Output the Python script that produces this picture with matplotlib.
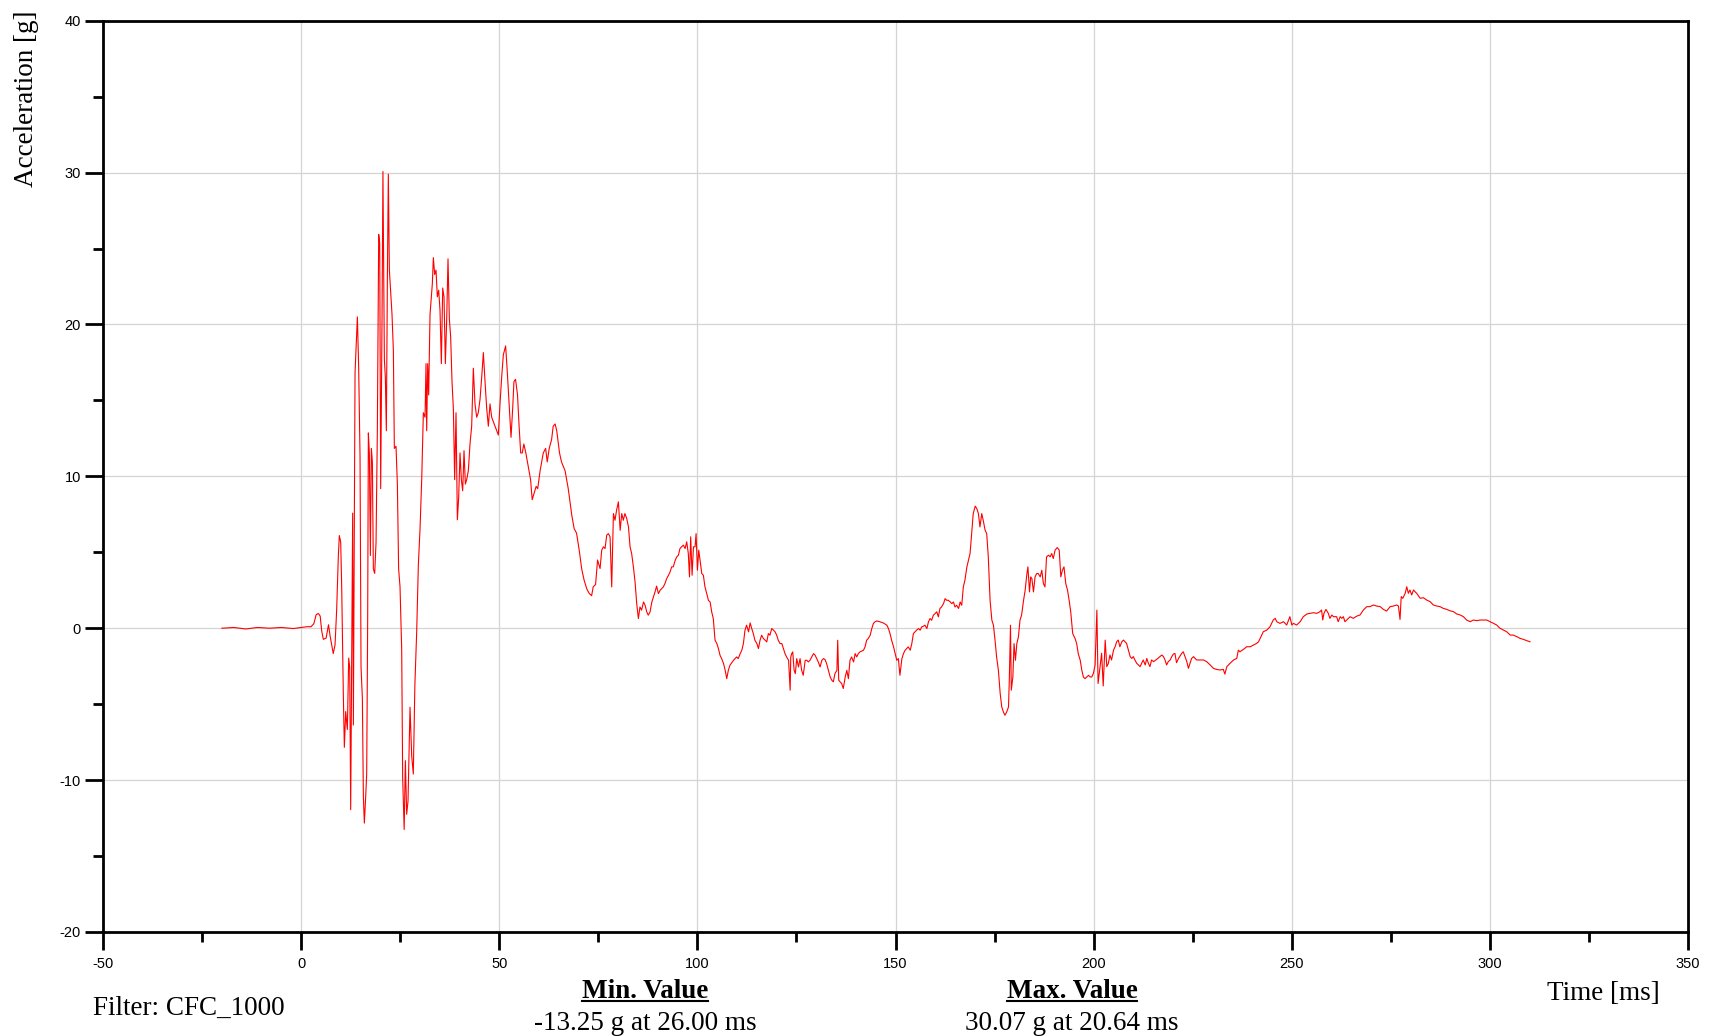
import numpy as np
import matplotlib
matplotlib.use('Agg')
import matplotlib.pyplot as plt
from matplotlib.ticker import MultipleLocator
from matplotlib.lines import Line2D

plt.rcParams['axes.unicode_minus'] = False

# pre-impact, nearly flat
t_pre = [-20, -17, -14, -11, -8, -5, -2, 0, 1.5, 2.5, 3.2, 3.8, 4.35, 4.8, 5.2, 5.6, 6.3, 6.9, 7.3, 7.7, 8.1, 8.55]
g_pre = [0.0, 0.05, -0.05, 0.05, 0.0, 0.05, -0.02, 0.05, 0.1, 0.1, 0.3, 0.9, 0.97, 0.8, -0.2, -0.73, -0.65, 0.23, -0.5, -1.1, -1.67, -1.1]

# impact phase
t_imp = [8.97, 9.39, 9.64, 9.98, 10.23, 10.65, 10.9, 11.24, 11.66, 12.0, 12.25, 12.5, 12.84, 13.0, 13.18,
         13.6, 14.19, 14.52, 14.86, 15.11, 15.45, 15.7, 15.95, 16.29, 16.54, 16.79, 16.96, 17.21, 17.47,
         17.72, 17.97, 18.22, 18.56, 18.9, 19.23, 19.57, 19.82, 20.07, 20.41, 20.64, 21.0, 21.25, 21.5,
         21.76, 22.0, 22.26, 22.6, 22.93, 23.27, 23.52, 23.94, 24.28, 24.6, 24.95, 25.37, 25.62, 26.0,
         26.3, 26.63, 26.97, 27.47, 27.9, 28.3, 28.7, 29.16, 29.58, 30.0, 30.42, 30.84, 31.26, 31.51,
         31.68, 31.93, 32.18, 32.52, 32.77, 33.11, 33.36, 33.7, 34.03, 34.37, 34.71, 35.04, 35.38, 35.72,
         36.05, 36.39, 36.73, 37.06, 37.4, 37.73, 38.07, 38.41, 38.74, 39.08, 39.42, 39.75, 40.09, 40.43,
         40.76, 41.1, 41.44, 41.77]
g_imp = [1.26, 4.8, 6.1, 5.67, 2.73, -4.46, -7.84, -5.49, -6.67, -1.97, -2.56, -11.95, 0.97, 7.58, -6.37,
         16.83, 20.5, 17.12, 11.25, -2.56, -4.61, -11.07, -12.83, -11.07, -9.6, 0.68, 12.86, 11.54, 4.79,
         11.84, 10.95, 3.9, 3.61, 5.67, 13.0, 25.93, 25.34, 9.19, 20.35, 30.07, 17.7, 16.5, 13.0,
         23.0, 29.9, 23.58, 22.1, 20.65, 18.3, 11.84, 11.98, 9.49, 3.9, 2.73, -1.38, -9.9, -13.25,
         -8.72, -12.25, -11.37, -5.2, -8.43, -9.6, -3.73, -0.2, 4.2, 6.55, 9.78, 14.19, 13.89, 17.42,
         13.0, 17.42, 15.36, 20.65, 21.53, 22.7, 24.4, 23.29, 23.58, 21.82, 22.26, 20.94, 17.42, 22.4,
         21.82, 17.42, 20.35, 24.32, 20.35, 19.18, 16.24, 14.48, 9.78, 14.19, 7.14, 8.6, 11.54, 9.78,
         9.05, 11.69, 9.49, 9.78]

# rebound / decay
t_mid = [42.19, 42.61, 43.03, 43.45, 43.87, 44.3, 44.7, 45.14, 45.56, 45.98, 46.4, 46.82, 47.24, 47.66,
         48.08, 48.5, 48.92, 49.34, 49.76, 50.18, 50.6, 51.02, 51.6, 52.03, 52.54, 52.96, 53.38, 53.7,
         54.1, 54.6, 55.0, 55.4, 55.8, 56.2, 56.7, 57.3, 57.9, 58.3, 58.8, 59.3, 59.7, 60.3, 61.1, 61.7,
         62.1, 62.6, 63.2, 63.6, 64.1, 64.5, 65.2, 65.7, 66.6, 67.4, 68.3, 68.9, 69.5, 70.2, 70.8, 71.4,
         72.1, 72.7, 73.3, 73.7, 74.3, 74.8]
g_mid = [10.37, 12.13, 13.3, 17.12, 14.77, 13.89, 14.19, 15.07, 16.53, 18.15, 16.24, 14.48, 13.3, 14.77,
         13.89, 13.6, 13.3, 13.0, 12.72, 14.77, 16.53, 18.0, 18.59, 16.83, 14.48, 12.57, 14.48, 16.24,
         16.39, 15.36, 13.3, 11.54, 11.54, 12.13, 11.54, 10.66, 9.78, 8.46, 8.9, 9.34, 9.19, 10.37, 11.54, 11.84,
         10.95, 11.84, 12.42, 13.3, 13.45, 13.0, 11.54, 10.95, 10.37, 9.19, 7.43, 6.55, 6.26, 5.08, 3.9, 3.17,
         2.58, 2.29, 2.14, 2.73, 2.88, 4.49]

t_a = [75.43, 75.85, 76.27, 76.69, 77.11, 77.53, 77.95, 78.37, 78.8, 79.2, 79.6, 80.06, 80.5, 80.9, 81.3,
       81.7, 82.16, 82.6, 83.0, 83.4, 83.84, 84.26, 84.68, 85.1, 85.5, 85.9, 86.4, 86.8, 87.2, 87.6, 88.05,
       88.5, 88.9, 89.3, 89.7, 90.15, 90.6, 91.0, 91.4, 91.8, 92.25, 92.7, 93.1, 93.5, 93.9, 94.4, 94.8,
       95.2, 95.6, 96.0, 96.46, 96.9, 97.3, 97.7, 98.0, 98.3, 98.65, 99.0, 99.4, 99.66, 100.0, 100.33,
       100.67, 101.1, 101.5, 101.9, 102.35, 102.77, 103.2, 103.6, 104.0, 104.45, 104.9, 105.3, 105.7,
       106.1, 106.6, 107.0, 107.4, 107.8, 108.2, 109.1, 109.9, 110.3, 110.8, 111.2, 111.6, 112.0, 112.4,
       112.9, 113.3, 113.7, 114.1, 114.5, 115.0, 115.4, 115.8, 116.2, 116.65, 117.1, 117.5, 117.9, 118.3,
       118.75, 119.2, 119.6, 120.0, 120.4, 120.85, 121.3, 121.7, 122.1, 122.5, 123.0, 123.4, 123.55,
       123.8, 124.05, 124.4, 124.7, 125.06, 125.5, 125.9, 126.3, 126.7, 127.2, 127.6, 128.0, 128.4,
       128.85, 129.3, 129.7, 130.1, 130.5, 130.95, 131.4, 131.8, 132.2, 132.6, 133.05, 133.5, 133.9,
       134.3, 134.7, 135.2, 135.4, 135.66, 136.0, 136.4, 136.8, 137.3, 137.7, 138.1, 138.5, 138.9, 139.4,
       139.8]
g_a = [3.93, 5.14, 5.36, 5.25, 6.13, 6.23, 6.02, 2.72, 7.55, 7.11, 7.77, 8.32, 6.45, 7.55, 7.11,
       7.55, 7.22, 6.67, 5.36, 4.92, 4.04, 3.05, 1.62, 0.64, 1.4, 1.19, 1.73, 1.51, 1.08, 0.86, 1.08,
       1.73, 2.06, 2.39, 2.77, 2.28, 2.5, 2.61, 2.72, 2.94, 3.27, 3.49, 3.71, 4.04, 4.04, 4.48, 4.7,
       4.81, 5.25, 5.36, 5.47, 5.25, 5.69, 4.92, 3.38, 6.02, 3.49, 5.36, 5.36, 6.23, 3.82, 5.14,
       4.48, 3.6, 3.49, 2.72, 2.28, 1.84, 1.73, 1.08, 0.64, -0.79, -1.01, -1.34, -1.78,
       -2.0, -2.33, -2.77, -3.32, -2.77, -2.44, -2.11, -1.89, -2.0, -1.67, -1.45, -1.01, -0.13, 0.2,
       -0.24, 0.35, -0.02, -0.35, -0.79, -1.01, -1.34, -0.79, -0.46, -0.68, -0.79, -0.9, -0.35, -0.46,
       -0.02, -0.13, -0.24, -0.46, -0.79, -1.01, -1.01, -1.34, -1.67, -1.89, -2.11, -4.08, -1.89,
       -1.67, -1.56, -2.77, -2.99, -2.0, -2.55, -2.0, -2.77, -3.1, -2.11, -2.11, -2.22, -2.11,
       -1.89, -1.67, -1.78, -2.0, -2.22, -2.55, -2.11, -2.0, -2.06, -2.33, -2.77, -3.21, -3.42,
       -3.53, -2.99, -2.77, -0.79, -3.42, -3.53, -3.64, -3.97, -3.21, -2.77, -3.32, -2.11, -1.89, -2.22,
       -1.67]

t_b = [140.2, 140.6, 141.0, 141.9, 142.3, 142.7, 143.1, 143.6, 144.0, 144.4, 144.8, 145.25, 146.1, 146.9,
       147.8, 148.2, 148.6, 149.0, 149.5, 149.9, 150.3, 150.7, 151.1, 151.6, 152.0, 152.4, 152.8, 153.2,
       153.7, 154.1, 154.5, 154.9, 155.3, 155.8, 156.2, 156.6, 157.0, 157.4, 157.9, 158.3, 158.7, 159.1,
       159.55, 160.0, 160.4, 160.8, 161.2, 161.6, 162.1, 162.5, 162.9, 163.3, 163.8, 164.2, 164.6, 165.0,
       165.4, 165.9, 166.3, 166.7, 167.1, 167.5, 168.0, 168.4, 168.8, 169.2, 169.6, 170.1, 170.5, 170.9,
       171.3, 171.75, 172.2, 172.6, 173.0, 173.4, 173.85, 174.3, 174.7, 175.1, 175.5, 175.95, 176.4,
       176.8, 177.2, 177.6, 178.05, 178.5, 178.7, 179.0, 179.2, 179.6, 179.9, 180.25, 180.6, 181.0,
       181.4, 181.8, 182.3, 182.7, 183.1, 183.4, 183.8, 184.1, 184.4, 184.8, 185.2, 185.6, 186.0, 186.5,
       186.9, 187.3, 187.7, 188.1, 188.6, 189.0, 189.4, 189.8, 190.25, 190.8, 191.3, 191.7, 192.1, 192.5,
       192.95, 193.4, 193.8, 194.2, 194.7, 195.3, 195.7, 196.1, 196.6, 197.0, 197.4, 197.8, 198.25, 198.7,
       199.1, 199.5, 199.9, 200.35, 200.8, 201.1]
g_b = [-1.89, -1.67, -1.56, -1.45, -1.23, -0.79, -0.68, -0.46, -0.02, 0.31, 0.42, 0.48, 0.42, 0.35,
       0.2, -0.02, -0.35, -0.79, -1.23, -1.67, -2.11, -2.0, -3.1, -2.0, -1.67, -1.45, -1.34, -1.23,
       -1.45, -1.01, -0.35, -0.24, -0.13, -0.02, -0.13, 0.09, 0.13, 0.2, -0.02, 0.42, 0.64, 0.53,
       0.86, 0.97, 1.08, 0.75, 1.3, 1.4, 1.62, 1.95, 1.84, 1.84, 1.73, 1.62, 1.73, 1.4,
       1.51, 1.3, 1.73, 1.51, 2.72, 3.16, 4.04, 4.48, 4.92, 6.23, 7.55, 8.04, 7.88, 7.55,
       6.67, 7.55, 7.0, 6.45, 6.23, 4.7, 1.84, 0.53, 0.2, -0.79, -1.89, -2.77, -4.3,
       -5.18, -5.51, -5.73, -5.51, -5.18, -3.42, 0.2, -4.08, -3.21, -1.01, -2.11, -1.01, -0.57,
       0.53, 0.86, 1.84, 2.5, 3.49, 4.04, 2.39, 3.38, 3.27, 2.39, 3.38, 3.6, 3.6, 3.38,
       3.82, 2.94, 2.72, 4.7, 4.81, 4.7, 4.92, 4.59, 5.14, 5.31, 5.14, 3.38, 3.82, 4.04,
       2.94, 2.5, 1.84, 1.08, -0.35, -0.68, -1.01, -1.67, -2.11, -2.77, -3.21, -3.32, -3.21, -3.1,
       -3.21, -3.21, -2.99, -2.44, 1.19, -3.64]

t_c = [201.6, 202.0, 202.4, 202.9, 203.3, 203.7, 204.1, 204.5, 205.0, 205.4, 205.8, 206.2, 206.6, 207.1,
       207.5, 207.9, 208.3, 208.75, 209.2, 209.6, 210.0, 210.4, 210.85, 211.3, 211.7, 212.1, 212.5, 213.0,
       213.4, 213.8, 214.2, 214.6, 215.1, 215.9, 216.7, 217.2, 217.6, 218.0, 218.4, 218.8, 219.3, 219.7,
       220.1, 220.5, 220.9, 221.4, 221.8, 222.2, 222.6, 223.05, 223.5, 223.9, 224.3, 224.7, 225.2, 225.6,
       226.0, 226.8, 227.7, 228.5, 229.4, 230.2, 231.0, 231.9, 232.7, 233.1, 233.6, 234.0, 234.4, 235.3,
       236.1, 236.5, 236.9, 237.8, 238.6, 239.5, 240.3, 241.1, 241.6, 242.0, 242.8, 243.7, 244.5, 245.3,
       245.8, 246.2, 247.0, 247.9, 248.7, 249.5, 250.0, 250.4, 251.2, 252.1, 252.9, 253.8, 254.6, 255.4,
       256.3, 257.1, 257.5, 257.8, 258.1, 258.6, 259.2, 259.6, 260.1, 260.5, 261.3, 261.7, 262.2, 262.6,
       263.0, 263.4, 263.85, 264.7, 265.5, 266.4, 267.2, 268.05, 268.9, 269.7, 270.6, 271.4, 272.3, 273.1,
       273.9, 274.8, 275.6, 276.5, 276.9, 277.3, 277.6, 278.0, 278.6, 279.0, 279.4, 279.8, 280.25, 280.7,
       281.1, 281.5, 282.4, 283.2, 284.0, 284.9, 285.7, 286.6, 287.4, 288.2, 289.1, 289.9, 290.8, 291.6,
       292.5, 293.3, 294.1, 295.0, 295.8, 296.7, 297.5, 298.3, 299.2, 300.0, 300.9, 301.7, 302.5, 303.4,
       304.2, 305.1, 305.9, 306.8, 307.6, 308.4, 309.3, 310.1]
g_c = [-2.55, -1.65, -3.8, -0.78, -2.53, -2.31, -1.76, -2.09, -1.44, -1.22, -0.89, -0.78, -1.22, -0.89,
       -0.78, -0.89, -1.0, -1.44, -1.87, -1.99, -1.87, -2.09, -2.31, -2.42, -2.53, -2.31, -2.09, -2.42,
       -1.99, -2.31, -2.53, -2.09, -2.2, -2.05, -1.87, -1.76, -1.87, -2.09, -2.42, -2.2, -2.09, -1.87,
       -1.7, -1.66, -2.27, -1.99, -1.83, -1.66, -1.55, -1.87, -2.2, -2.64, -2.31, -1.99, -1.87, -1.99,
       -2.09, -2.09, -2.09, -2.2, -2.42, -2.64, -2.71, -2.75, -2.71, -3.02, -2.53, -2.42, -2.31, -2.09,
       -1.99, -1.44, -1.55, -1.39, -1.22, -1.22, -1.11, -1.0, -0.89, -0.67, -0.23, -0.12, 0.1, 0.54,
       0.65, 0.43, 0.32, 0.43, 0.21, 0.76, 0.21, 0.32, 0.21, 0.43, 0.76, 0.94, 0.98, 1.02,
       0.98, 1.09, 1.2, 0.54, 0.98, 1.24, 0.98, 0.65, 0.87, 0.76, 0.76, 0.43, 0.76, 0.65,
       0.76, 0.43, 0.54, 0.76, 0.65, 0.8, 0.87, 1.2, 1.42, 1.42, 1.53, 1.46, 1.42, 1.24,
       1.13, 1.42, 1.46, 1.53, 1.46, 0.58, 2.08, 1.97, 2.3, 2.73, 2.3, 2.52, 2.19, 2.52,
       2.4, 2.3, 1.97, 2.01, 1.86, 1.75, 1.53, 1.46, 1.42, 1.31, 1.24, 1.15, 1.09, 0.94,
       0.87, 0.76, 0.54, 0.43, 0.54, 0.5, 0.54, 0.54, 0.54, 0.43, 0.32, 0.21, 0.0, -0.12,
       -0.23, -0.45, -0.45, -0.56, -0.67, -0.73, -0.82, -0.89]

time = np.concatenate([t_pre, t_imp, t_mid, t_a, t_b, t_c])
accel = np.concatenate([g_pre, g_imp, g_mid, g_a, g_b, g_c])

serif = ['Liberation Serif', 'DejaVu Serif']
sans = ['Liberation Sans', 'DejaVu Sans']

fig = plt.figure(figsize=(17.14, 10.36), dpi=100)
ax = fig.add_axes([0.0601, 0.1004, 0.9248, 0.8796])

ax.plot(time, accel, color='#ff0000', linewidth=0.8, zorder=3)

ax.set_xlim(-50, 350)
ax.set_ylim(-20, 40)
ax.xaxis.set_major_locator(MultipleLocator(50))
ax.xaxis.set_minor_locator(MultipleLocator(25))
ax.yaxis.set_major_locator(MultipleLocator(10))
ax.yaxis.set_minor_locator(MultipleLocator(5))
ax.grid(True, which='major', color='#d4d4d4', linewidth=0.9, zorder=0)

for s in ax.spines.values():
    s.set_linewidth(2.0)
ax.tick_params(which='major', direction='out', length=13, width=2.0, pad=5)
ax.tick_params(axis='y', which='major', pad=3)
ax.tick_params(which='minor', direction='out', length=7, width=2.0)
for lab in ax.get_xticklabels() + ax.get_yticklabels():
    lab.set_family(sans)
    lab.set_fontsize(10.5)

fig.text(0.0157, 0.99, 'Acceleration [g]', rotation=90, ha='center', va='top',
         family=serif, fontsize=19.5)
fig.text(0.9025, 1 - 994 / 1036, 'Time [ms]', ha='left', va='center', family=serif, fontsize=19.5)
fig.text(0.0543, 1 - 1008 / 1036, 'Filter: CFC_1000', ha='left', va='center', family=serif, fontsize=19.5)

min_head = fig.text(645 / 1714, 1 - 992 / 1036, 'Min. Value', ha='center', va='center',
                    family=serif, fontsize=19.5, fontweight='bold')
fig.text(645 / 1714, 1 - 1024 / 1036, '-13.25 g at 26.00 ms', ha='center', va='center',
         family=serif, fontsize=19.5)
max_head = fig.text(1072 / 1714, 1 - 992 / 1036, 'Max. Value', ha='center', va='center',
                    family=serif, fontsize=19.5, fontweight='bold')
fig.text(1072 / 1714, 1 - 1024 / 1036, '30.07 g at 20.64 ms', ha='center', va='center',
         family=serif, fontsize=19.5)

# underline the two headings
fig.canvas.draw()
inv = fig.transFigure.inverted()
for head in [min_head, max_head]:
    bb = head.get_window_extent()
    (x0, y0), (x1, y1) = inv.transform([[bb.x0, bb.y0], [bb.x1, bb.y0]])
    fig.add_artist(Line2D([x0, x1], [y0 + 0.003, y0 + 0.003], transform=fig.transFigure,
                          color='black', linewidth=1.5))

fig.savefig('out.png', dpi=100)
